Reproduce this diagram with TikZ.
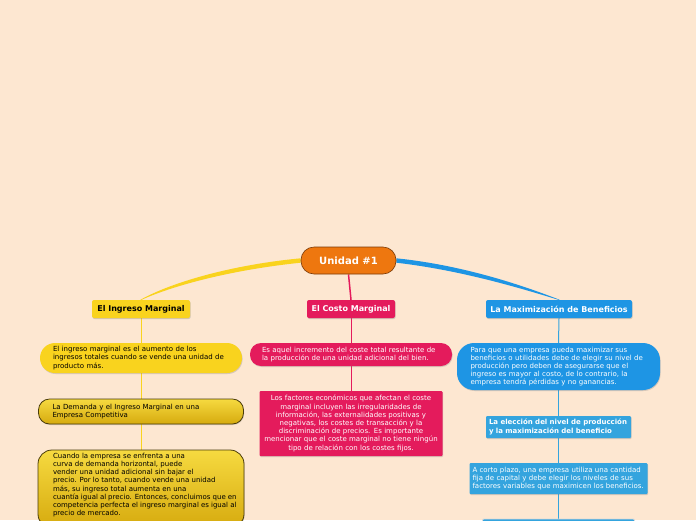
\documentclass[tikz,border=0pt]{standalone}
\usepackage{fontspec}
\setmainfont{DejaVu Sans}
\usetikzlibrary{shadows,backgrounds}
\definecolor{paper}{HTML}{FDE7D1}
\definecolor{rootorange}{HTML}{EE770F}
\definecolor{rootedge}{HTML}{7A3A08}
\definecolor{yel}{HTML}{F9D31E}
\definecolor{yeltop}{HTML}{F6DA40}
\definecolor{yelbot}{HTML}{D6AA0E}
\definecolor{yeledge}{HTML}{4A3C0A}
\definecolor{crim}{HTML}{E41B5C}
\definecolor{blu}{HTML}{1E95E4}
\definecolor{blubox}{HTML}{34A4DE}

\tikzset{
  topic/.style={rounded corners=2pt,inner sep=0pt,align=center,
    font=\bfseries\fontsize{8pt}{9.5pt}\selectfont,
    drop shadow={shadow xshift=0.6pt,shadow yshift=-1pt,opacity=0.35}},
  leaf/.style={inner sep=0pt,font=\fontsize{7pt}{8.2pt}\selectfont,
    drop shadow={shadow xshift=0.6pt,shadow yshift=-1pt,opacity=0.3}},
  link/.style={line width=1pt}
}

\begin{document}
\begin{tikzpicture}[x=1pt,y=-1pt]
  \useasboundingbox (0,0) rectangle (696,520);

  % root
  \node[fill=rootorange,draw=rootedge,line width=0.6pt,rounded corners=13pt,
    minimum width=95pt,minimum height=27pt,inner sep=0pt,text=white,
    font=\bfseries\fontsize{10pt}{11pt}\selectfont] (root) at (348.5,260.5) {Unidad \#1};

  % main topics
  \node[topic,fill=yel,minimum width=98pt,minimum height=18pt] (ingreso) at (141,309) {El Ingreso Marginal};
  \node[topic,fill=crim,text=white,minimum width=88pt,minimum height=18pt] (costo) at (351,309) {El Costo Marginal};
  \node[topic,fill=blu,text=white,minimum width=146pt,minimum height=18pt] (maxim) at (559,309) {La Maximización de Beneficios};

  % ingreso marginal
  \node[leaf,fill=yel,rounded corners=15pt,minimum height=30pt,text width=176pt,
    inner xsep=13pt,align=left] (yelA) at (141,358)
    {El ingreso marginal es el aumento de los\\
     ingresos totales cuando se vende una unidad de\\
     producto más.};
  \node[leaf,top color=yeltop,bottom color=yelbot,draw=yeledge,line width=0.8pt,
    rounded corners=11pt,minimum height=25pt,text width=177pt,inner xsep=14pt,
    align=left] (yelB) at (141,411.5)
    {La Demanda y el Ingreso Marginal en una\\
     Empresa Competitiva};
  \node[leaf,top color=yeltop,bottom color=yelbot,draw=yeledge,line width=0.8pt,
    rounded corners=14pt,inner xsep=7.5pt,inner ysep=0pt] (yelC) at (141,489)
    {\parbox[c][78pt][t]{191pt}{\raggedright\leftskip=7.5pt
     \vspace*{3pt}Cuando la empresa se enfrenta a una\\
     curva de demanda horizontal, puede\\
     vender una unidad adicional sin bajar el\\
     precio. Por lo tanto, cuando vende una unidad\\
     más, su ingreso total aumenta en una\\
     cuantía igual al precio. Entonces, concluimos que en\\
     competencia perfecta el ingreso marginal es igual al\\
     precio de mercado.}};

  % costo marginal
  \node[leaf,fill=crim,text=white,rounded corners=11pt,minimum height=23pt,
    text width=178pt,inner xsep=12pt,align=left] (crimA) at (351,354.5)
    {Es aquel incremento del coste total resultante de\\
     la producción de una unidad adicional del bien.};
  \node[leaf,fill=crim,text=white,rounded corners=1pt,minimum height=65pt,
    text width=177pt,inner xsep=3pt,align=center] (crimB) at (351,423.5)
    {Los factores económicos que afectan el coste\\
     marginal incluyen las irregularidades de\\
     información, las externalidades positivas y\\
     negativas, los costes de transacción y la\\
     discriminación de precios. Es importante\\
     mencionar que el coste marginal no tiene ningún\\
     tipo de relación con los costes fijos.};

  % maximizacion
  \node[leaf,fill=blu,text=white,rounded corners=17pt,minimum height=47pt,
    text width=176pt,inner xsep=13.5pt,align=left] (bluA) at (558.5,366.5)
    {Para que una empresa pueda maximizar sus\\
     beneficios o utilidades debe de elegir su nivel de\\
     producción pero deben de asegurarse que el\\
     ingreso es mayor al costo, de lo contrario, la\\
     empresa tendrá pérdidas y no ganancias.};
  \node[leaf,fill=blubox,text=white,rounded corners=1pt,minimum height=22pt,
    text width=139pt,inner xsep=3pt,align=left,
    font=\bfseries\fontsize{7pt}{8.2pt}\selectfont] (bluB) at (558.5,427)
    {La elección del nivel de producción\\
     y la maximización del beneficio};
  \node[leaf,fill=blubox,text=white,rounded corners=1pt,minimum height=31pt,
    text width=172pt,inner xsep=3pt,align=left] (bluC) at (558.5,478.5)
    {A corto plazo, una empresa utiliza una cantidad\\
     fija de capital y debe elegir los niveles de sus\\
     factores variables que maximicen los beneficios.};
  \node[fill=blubox,draw=gray!30,line width=0.8pt,rounded corners=1pt,
    minimum width=152pt,minimum height=30pt] (bluD) at (558.5,534) {};

  \begin{pgfonlayer}{background}
    \fill[paper] (0,0) rectangle (696,520);
    \fill[yel] ([yshift=2.2pt]root.west) .. controls (230,265) and (170,283) ..
      ([xshift=-0.6pt]ingreso.north) -- ([xshift=0.6pt]ingreso.north)
      .. controls (172,286) and (230,270) .. ([yshift=-2.2pt]root.west) -- cycle;
    \fill[blu] ([yshift=2.2pt]root.east) .. controls (462,265) and (522,285) ..
      ([xshift=0.6pt]maxim.north) -- ([xshift=-0.6pt]maxim.north)
      .. controls (520,288) and (460,270) .. ([yshift=-2.2pt]root.east) -- cycle;
    \draw[crim,line width=1.5pt] (root.south) -- (costo.north);
    \draw[link,yel] (ingreso.south) -- (yelA.north);
    \draw[link,yel] (yelA.south) -- (yelB.north);
    \draw[link,yel] (yelB.south) -- (yelC.north);
    \draw[link,crim] (costo.south) -- (crimA.north);
    \draw[link,crim] (crimA.south) -- (crimB.north);
    \draw[link,blubox] (maxim.south) -- (bluA.north);
    \draw[link,blubox] (bluA.south) -- (bluB.north);
    \draw[link,blubox] (bluB.south) -- (bluC.north);
    \draw[link,blubox] (bluC.south) -- (bluD.north);
  \end{pgfonlayer}
\end{tikzpicture}
\end{document}
